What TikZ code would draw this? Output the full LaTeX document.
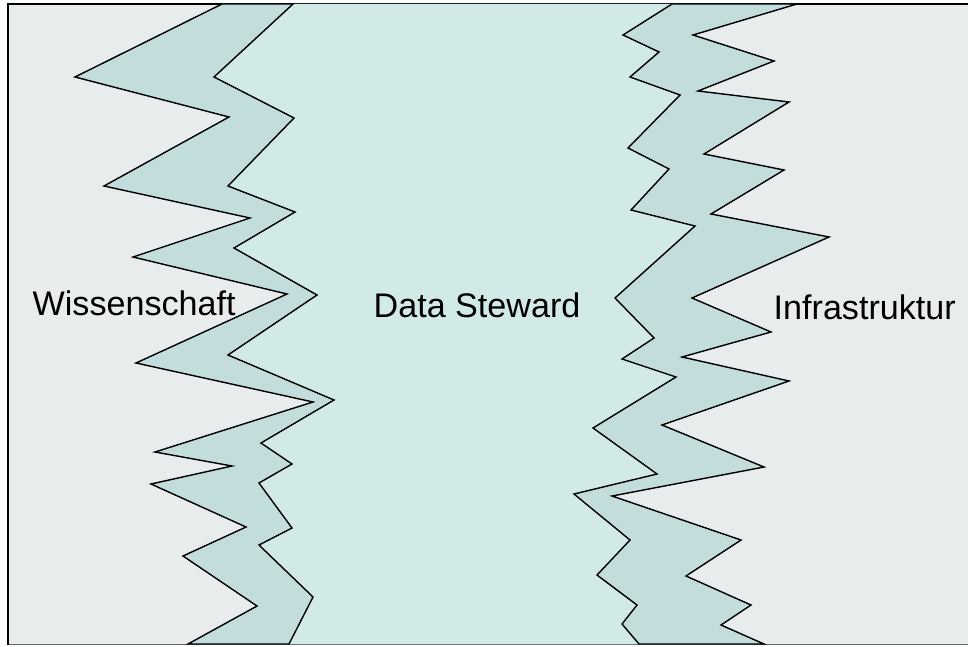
\documentclass[tikz,border=0pt]{standalone}
\usepackage{fontspec}
\setmainfont{Liberation Sans}
\definecolor{sidegray}{HTML}{E8ECEC}
\definecolor{middleteal}{HTML}{D2EAE7}
\definecolor{bandteal}{HTML}{C2DDDC}
\tikzset{>=stealth}

\begin{document}
\begin{tikzpicture}[x=0.01cm,y=-0.01cm,
  band/.style={fill=bandteal,draw=black,line width=0.4pt,line join=miter},
  label/.style={font=\fontsize{9.7}{11}\selectfont,anchor=base west,inner sep=0pt}]
\useasboundingbox (0,0) rectangle (968,646);
\fill[sidegray] (8,4) rectangle (968,645);
\draw[black!60,line width=0.5pt] (8,644.5) -- (968,644.5);
\draw[black,line width=0.7pt] (8,644.5) -- (8,4) -- (968,4);
\fill[middleteal] (293,4) -- (214,77) -- (294,118) -- (228,186) -- (295,212) -- (234,248)
  -- (317,295) -- (228,355) -- (334,400) -- (261,443) -- (292,464) -- (259,483)
  -- (292,528) -- (259,545) -- (313,597) -- (289,644)
  -- (639,644) -- (622,624) -- (637,605) -- (597,575) -- (630,540) -- (574,494)
  -- (657,474) -- (593,428) -- (676,377) -- (622,359) -- (654,338) -- (615,298)
  -- (695,226) -- (631,210) -- (669,169) -- (628,148) -- (680,95) -- (630,77)
  -- (659,52) -- (623,35) -- (672,4) -- cycle;
\draw[band] (222,4) -- (75,77) -- (229,117) -- (104,186) -- (250,218) -- (133,257)
  -- (287,294) -- (136,363) -- (313,402) -- (155,452) -- (232,466) -- (151,484)
  -- (246,527) -- (183,556) -- (257,606) -- (188,644)
  -- (289,644) -- (313,597) -- (259,545) -- (292,528) -- (259,483) -- (292,464)
  -- (261,443) -- (334,400) -- (228,355) -- (317,295) -- (234,248) -- (295,212)
  -- (228,186) -- (294,118) -- (214,77) -- (293,4) -- cycle;
\draw[band] (672,4) -- (623,35) -- (659,52) -- (630,77) -- (680,95) -- (628,148)
  -- (669,169) -- (631,210) -- (695,226) -- (615,298) -- (654,338) -- (622,359)
  -- (676,377) -- (593,428) -- (657,474) -- (574,494) -- (630,540) -- (597,575)
  -- (637,605) -- (622,624) -- (639,644)
  -- (764,644) -- (721,625) -- (751,605) -- (686,576) -- (741,540) -- (612,496)
  -- (764,467) -- (662,425) -- (789,381) -- (682,357) -- (771,332) -- (692,298)
  -- (829,237) -- (711,214) -- (784,170) -- (704,154) -- (789,102) -- (698,91)
  -- (774,61) -- (693,35) -- (797,4) -- cycle;
\node[label] (wiss) at (32,315) {Wissenschaft};
\node[label] (steward) at (373,317) {Data Steward};
\node[label] (infra) at (773,319) {Infrastruktur};
\end{tikzpicture}
\end{document}
